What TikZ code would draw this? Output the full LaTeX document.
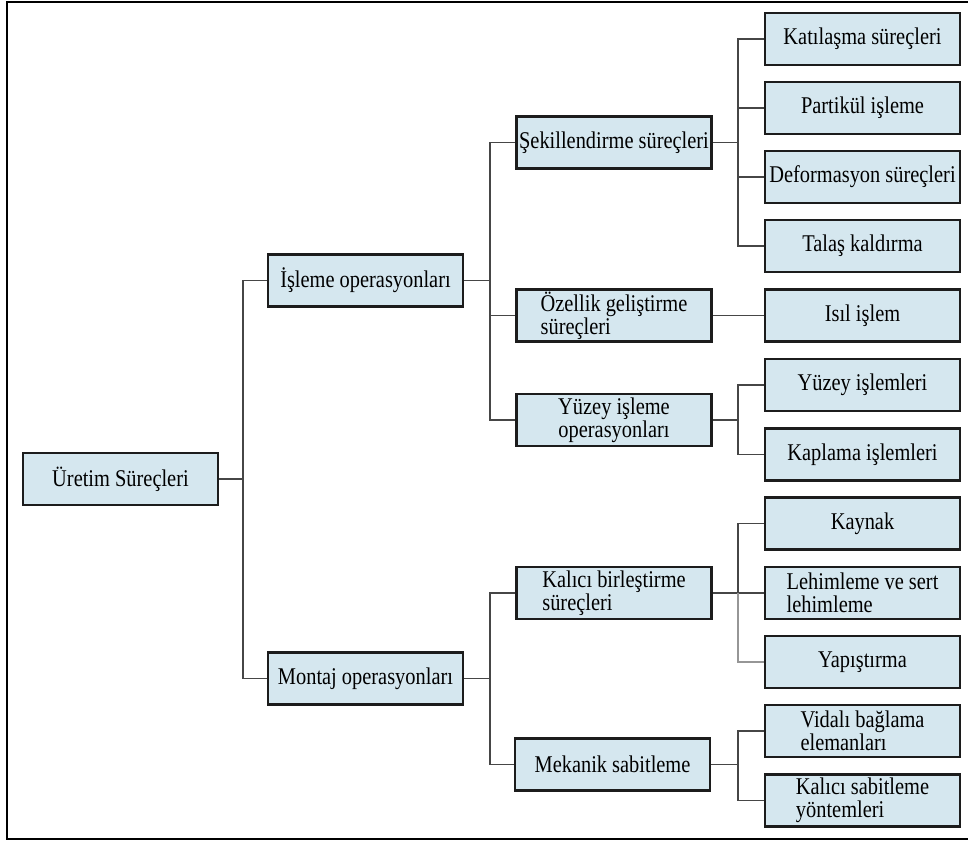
\documentclass[tikz,border=0pt]{standalone}
\usepackage{fontspec}
\setmainfont{Liberation Serif}[FakeStretch=0.85]
\definecolor{boxfill}{RGB}{213,231,239}
\definecolor{boxline}{RGB}{28,28,28}
\definecolor{connline}{RGB}{70,70,70}
\definecolor{connlight}{RGB}{150,150,150}
\tikzset{
  box/.style={draw=boxline, line width=2.6pt, fill=boxfill,
    minimum width=195pt, minimum height=52pt, inner sep=0pt,
    align=left, font=\fontsize{24}{23}\selectfont},
  conn/.style={draw=connline, line width=1.4pt},
  connfaint/.style={draw=connlight, line width=1.4pt},
  frameline/.style={draw=black, line width=2pt}
}
\begin{document}
\begin{tikzpicture}[x=1pt,y=-1pt]
\useasboundingbox (0,0) rectangle (968,841);
% outer frame
\draw[frameline] (980,1.5) -- (6.5,1.5) -- (6.5,838.5) -- (980,838.5);

% level 0
\node[box] (uretim) at (120.5,479) {Üretim Süreçleri};
% level 1
\node[box] (isleme) at (365.5,280.5) {İşleme operasyonları};
\node[box] (montaj) at (365.5,678.5) {Montaj operasyonları};
% level 2
\node[box] (sekil)   at (614,142.5) {Şekillendirme süreçleri};
\node[box] (ozel)    at (614,315.5) {Özellik geliştirme\\süreçleri};
\node[box, align=center] (yuzeyop) at (614,420) {Yüzey işleme\\operasyonları};
\node[box] (kalici)  at (614,593) {Kalıcı birleştirme\\süreçleri};
\node[box] (mekanik) at (612.5,764.5) {Mekanik sabitleme};
% level 3
\node[box] (katil)     at (862.5,39)    {Katılaşma süreçleri};
\node[box] (partikul)  at (862.5,108)   {Partikül işleme};
\node[box] (deform)    at (862.5,177)   {Deformasyon süreçleri};
\node[box] (talas)     at (862.5,246)   {Talaş kaldırma};
\node[box] (isil)      at (862.5,315.5) {Isıl işlem};
\node[box] (yuzeyis)   at (862.5,385)   {Yüzey işlemleri};
\node[box] (kaplama)   at (862.5,454.5) {Kaplama işlemleri};
\node[box] (kaynak)    at (862.5,523.5) {Kaynak};
\node[box] (lehim)     at (862.5,593)   {Lehimleme ve sert\\lehimleme};
\node[box] (yapis)     at (862.5,662)   {Yapıştırma};
\node[box] (vidali)    at (862.5,731)   {Vidalı bağlama\\elemanları};
\node[box] (kalicisab) at (862.5,800.5) {Kalıcı sabitleme\\yöntemleri};

% junction points of the tree
\coordinate (j0) at (243,479);
\coordinate (j1) at (490,280.5);
\coordinate (j2) at (490,678.5);
\coordinate (j3) at (738,142.5);
\coordinate (j4) at (738,420);
\coordinate (j5) at (738,593);
\coordinate (j6) at (738,764.5);

% connectors
\draw[conn] (uretim.east) -- (j0);
\draw[conn] (isleme.west) -| (j0);
\draw[conn] (montaj.west) -| (j0);

\draw[conn] (isleme.east) -- (j1);
\draw[conn] (sekil.west) -| (j1);
\draw[conn] (ozel.west) -| (j1);
\draw[conn] (yuzeyop.west) -| (j1);

\draw[conn] (montaj.east) -- (j2);
\draw[conn] (kalici.west) -| (j2);
\draw[conn] (mekanik.west) -| (j2);

\draw[conn] (sekil.east) -- (j3);
\draw[conn] (katil.west) -| (j3);
\draw[conn] (partikul.west) -| (j3);
\draw[conn] (deform.west) -| (j3);
\draw[conn] (talas.west) -| (j3);

\draw[conn] (ozel.east) -- (isil.west);

\draw[conn] (yuzeyop.east) -- (j4);
\draw[conn] (yuzeyis.west) -| (j4);
\draw[conn] (kaplama.west) -| (j4);

\draw[conn] (kalici.east) -- (lehim.west);
\draw[conn] (kaynak.west) -| (j5);
\draw[connfaint] (yapis.west) -| (j5);

\draw[conn] (mekanik.east) -- (j6);
\draw[conn] (vidali.west) -| (j6);
\draw[conn] (kalicisab.west) -| (j6);
\end{tikzpicture}
\end{document}
